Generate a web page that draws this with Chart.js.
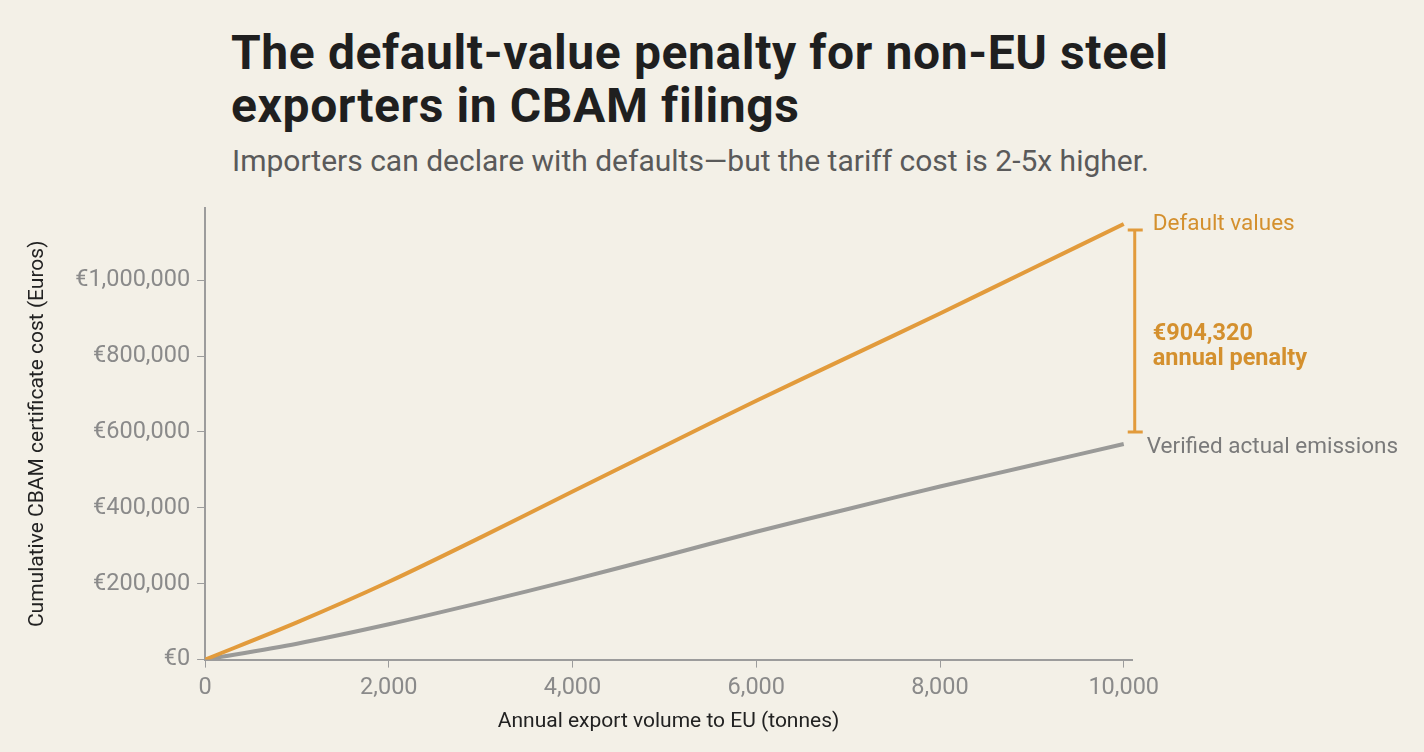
<!DOCTYPE html>
<html lang="en">
<head>
  <meta charset="UTF-8" />
  <title>CBAM default-value penalty</title>
  <script src="https://cdn.jsdelivr.net/npm/chart.js"></script>
  <style>
    html, body {
      margin: 0;
      padding: 0;
      background-color: #f3f0e7;
      width: 1424px;
      height: 752px;
      overflow: hidden;
      font-family: 'Roboto', sans-serif;
    }
    .wrap {
      position: relative;
      width: 1424px;
      height: 752px;
    }
    h1 {
      position: absolute;
      left: 231px;
      top: 26px;
      margin: 0;
      font-size: 48px;
      line-height: 53px;
      font-weight: 700;
      color: #1f1f1f;
      letter-spacing: 0.6px;
    }
    .sub {
      position: absolute;
      left: 232px;
      top: 143px;
      margin: 0;
      font-size: 30px;
      color: #5a5a5a;
    }
    canvas {
      position: absolute;
      left: 0;
      top: 0;
    }
  </style>
</head>
<body>
  <div class="wrap">
    <h1>The default-value penalty for non-EU steel<br>exporters in CBAM filings</h1>
    <p class="sub">Importers can declare with defaults—but the tariff cost is 2-5x higher.</p>
    <canvas id="cbamChart" width="1424" height="752"></canvas>
  </div>

  <script>
    // tonnes exported per year
    const volumes = [0, 1000, 2000, 3000, 4000, 5000, 6000, 7000, 8000, 9000, 10000];
    // cumulative certificate cost, euros
    const defaultCost = [0, 98000, 205000, 322000, 443000, 563000, 682000, 797000, 912000, 1030000, 1148000];
    const verifiedCost = [0, 42000, 93000, 150000, 210000, 273000, 337000, 397000, 456000, 512000, 568000];
    const xTicks = [0, 2000, 4000, 6000, 8000, 10000];
    const yTicks = [0, 200000, 400000, 600000, 800000, 1000000];
    const penaltyText = ['€904,320', 'annual penalty'];
    const bracketRange = [1132000, 600000];

    const orange = '#e29b3c';
    const orangeText = '#d4902e';
    const grey = '#9a9a98';
    const axisGrey = '#9c9c9c';

    const fmtEuro = v => '€' + v.toLocaleString('en-US');

    const endLabels = {
      id: 'endLabels',
      afterDraw(chart) {
        const ctx = chart.ctx;
        const x = chart.scales.x;
        const y = chart.scales.y;
        const xEnd = x.getPixelForValue(volumes[volumes.length - 1]);
        const yDef = y.getPixelForValue(defaultCost[defaultCost.length - 1]);
        const yVer = y.getPixelForValue(verifiedCost[verifiedCost.length - 1]);

        ctx.save();
        ctx.textBaseline = 'middle';
        ctx.textAlign = 'left';

        ctx.font = '22.5px Roboto, sans-serif';
        ctx.fillStyle = orangeText;
        ctx.fillText('Default values', xEnd + 29, yDef);

        ctx.fillStyle = '#7a7a7a';
        ctx.fillText('Verified actual emissions', xEnd + 23, yVer + 3);

        // bracket
        const bx = xEnd + 11;
        const top = y.getPixelForValue(bracketRange[0]);
        const bot = y.getPixelForValue(bracketRange[1]);
        ctx.strokeStyle = orange;
        ctx.lineWidth = 3;
        ctx.beginPath();
        ctx.moveTo(bx, top);
        ctx.lineTo(bx, bot);
        ctx.moveTo(bx - 7, top);
        ctx.lineTo(bx + 8, top);
        ctx.moveTo(bx - 7, bot);
        ctx.lineTo(bx + 8, bot);
        ctx.stroke();

        const mid = (top + bot) / 2;
        ctx.font = 'bold 23.5px Roboto, sans-serif';
        ctx.fillStyle = orangeText;
        ctx.fillText(penaltyText[0], xEnd + 29, mid + 3);
        ctx.fillText(penaltyText[1], xEnd + 29, mid + 28);
        ctx.restore();
      }
    };

    new Chart(document.getElementById('cbamChart'), {
      type: 'line',
      data: {
        labels: volumes,
        datasets: [
          {
            label: 'Default values',
            data: volumes.map((v, i) => ({ x: v, y: defaultCost[i] })),
            borderColor: orange,
            borderWidth: 4,
            pointRadius: 0,
            tension: 0.3,
            fill: false
          },
          {
            label: 'Verified actual emissions',
            data: volumes.map((v, i) => ({ x: v, y: verifiedCost[i] })),
            borderColor: grey,
            borderWidth: 4,
            pointRadius: 0,
            tension: 0.3,
            fill: false
          }
        ]
      },
      options: {
        responsive: false,
        animation: false,
        layout: {
          padding: { top: 208, right: 292, bottom: 14, left: 21 }
        },
        plugins: {
          legend: { display: false },
          tooltip: { enabled: false }
        },
        scales: {
          x: {
            type: 'linear',
            min: 0,
            max: 10090,
            afterBuildTicks: axis => {
              axis.ticks = xTicks.map(v => ({ value: v }));
            },
            ticks: {
              color: '#8a8a8a',
              font: { size: 23.5, family: 'Roboto' },
              padding: 6,
              maxRotation: 0,
              autoSkip: false,
              callback: v => v.toLocaleString('en-US')
            },
            grid: {
              drawOnChartArea: false,
              drawTicks: true,
              tickLength: 8,
              color: axisGrey
            },
            border: { color: axisGrey, width: 2 },
            title: {
              display: true,
              text: 'Annual export volume to EU (tonnes)',
              color: '#222',
              font: { size: 21, family: 'Roboto' },
              padding: { top: 1 }
            }
          },
          y: {
            min: 0,
            max: 1190000,
            afterBuildTicks: axis => {
              axis.ticks = yTicks.map(v => ({ value: v }));
            },
            ticks: {
              color: '#8a8a8a',
              font: { size: 23.5, family: 'Roboto' },
              padding: 7,
              autoSkip: false,
              callback: v => fmtEuro(v)
            },
            grid: {
              drawOnChartArea: false,
              drawTicks: true,
              tickLength: 8,
              color: axisGrey
            },
            border: { color: axisGrey, width: 2 },
            title: {
              display: true,
              text: 'Cumulative CBAM certificate cost (Euros)',
              color: '#222',
              font: { size: 21, family: 'Roboto' },
              padding: { bottom: 18 }
            }
          }
        }
      },
      plugins: [endLabels]
    });
  </script>
</body>
</html>
